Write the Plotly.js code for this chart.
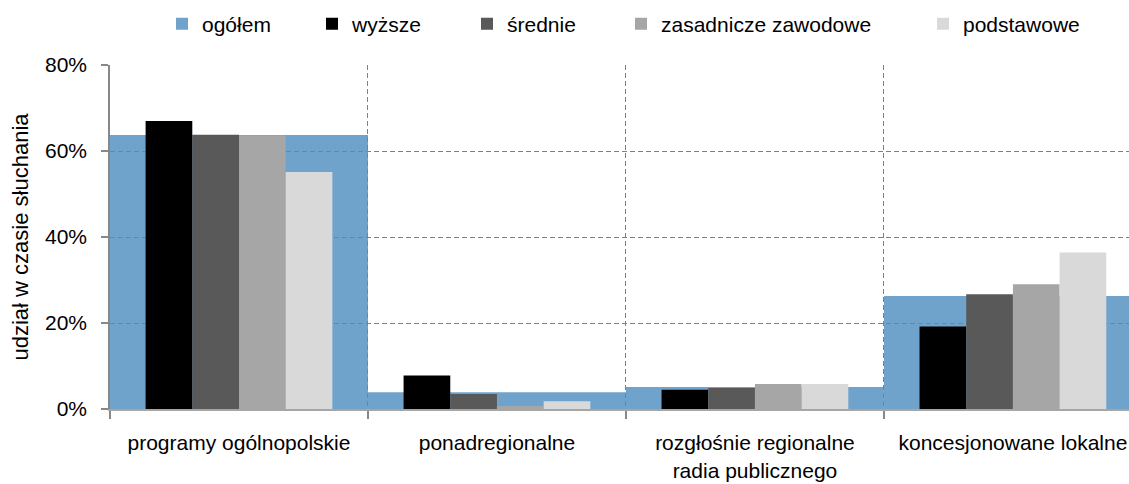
<!DOCTYPE html>
<html>
<head>
<meta charset="utf-8">
<script src="https://cdn.plot.ly/plotly-3.0.1.min.js"></script>
<style>html,body{margin:0;padding:0;background:#fff;}#chart{width:1129px;height:484px;}</style>
</head>
<body>
<div id="chart"></div>
<script>
const categories = ["programy ogólnopolskie", "ponadregionalne", "rozgłośnie regionalne<br>radia publicznego", "koncesjonowane lokalne"];
const seriesNames = ["ogółem", "wyższe", "średnie", "zasadnicze zawodowe", "podstawowe"];
const ogolem = [63.7, 3.9, 5.1, 26.3];
const wyzsze = [67.0, 7.8, 4.5, 19.2];
const srednie = [63.8, 3.5, 4.9, 26.7];
const zasadnicze = [63.6, 0.7, 5.8, 29.0];
const podstawowe = [55.1, 1.8, 5.8, 36.4];
const yTicks = [0, 20, 40, 60, 80];

const xPos = categories.map((c, i) => i);
const FONT = "Liberation Sans, Arial, sans-serif";

const subBarW = 0.181;
const traces = [
  {name: seriesNames[0], y: ogolem, color: "rgba(79,143,192,0.82)", offset: -0.5, width: 1, legend: "legend"},
  {name: seriesNames[1], y: wyzsze, color: "#000000", offset: -2 * subBarW, width: subBarW, legend: "legend2"},
  {name: seriesNames[2], y: srednie, color: "#595959", offset: -subBarW, width: subBarW, legend: "legend3"},
  {name: seriesNames[3], y: zasadnicze, color: "#a6a6a6", offset: 0, width: subBarW, legend: "legend4"},
  {name: seriesNames[4], y: podstawowe, color: "#d9d9d9", offset: subBarW, width: subBarW, legend: "legend5"}
].map(t => ({
  type: "bar",
  name: t.name,
  x: xPos,
  y: t.y,
  offset: t.offset,
  width: t.width,
  legend: t.legend,
  marker: {color: t.color, line: {width: 0}},
  hoverinfo: "name+y"
}));

const legendX = [162, 312, 467, 621, 923];
function mkLegend(px) {
  return {
    orientation: "h",
    x: (px - 110) / 1019,
    xanchor: "left",
    y: 1 + (65 - 24) / 344,
    yanchor: "middle",
    font: {family: FONT, size: 21, color: "#000"},
    bgcolor: "rgba(0,0,0,0)",
    borderwidth: 0
  };
}

const layout = {
  width: 1129,
  height: 484,
  margin: {l: 110, r: 0, t: 65, b: 75},
  paper_bgcolor: "#fff",
  plot_bgcolor: "#fff",
  font: {family: FONT, size: 21, color: "#000"},
  barmode: "overlay",
  showlegend: true,
  legend: mkLegend(legendX[0]),
  legend2: mkLegend(legendX[1]),
  legend3: mkLegend(legendX[2]),
  legend4: mkLegend(legendX[3]),
  legend5: mkLegend(legendX[4]),
  xaxis: {
    range: [-0.5, 3.45],
    tickmode: "array",
    tickvals: xPos,
    ticktext: categories,
    ticks: "",
    showgrid: false,
    zeroline: false,
    showline: true,
    linecolor: "#a6a6a6",
    linewidth: 2,
    ticklabelstandoff: 14,
    tickfont: {family: FONT, size: 21, color: "#000"},
    minor: {
      tickmode: "array",
      tickvals: [-0.5, 0.5, 1.5, 2.5],
      ticks: "outside",
      ticklen: 8,
      tickcolor: "#888",
      tickwidth: 1.5,
      showgrid: true,
      gridcolor: "#808080",
      gridwidth: 1.2,
      griddash: "5px,3px"
    }
  },
  yaxis: {
    range: [0, 80],
    tickmode: "array",
    tickvals: yTicks,
    ticktext: yTicks.map(v => v + "%"),
    ticks: "outside",
    ticklen: 7,
    tickcolor: "#888",
    tickwidth: 1.5,
    ticklabelstandoff: 10,
    showgrid: true,
    gridcolor: "#808080",
    gridwidth: 1.2,
    griddash: "5px,3px",
    zeroline: false,
    showline: true,
    linecolor: "#888",
    linewidth: 1.5,
    tickfont: {family: FONT, size: 21, color: "#000"},
    title: {text: "udział w czasie słuchania", font: {family: FONT, size: 22, color: "#000"}, standoff: 10},
    automargin: false
  }
};

Plotly.newPlot("chart", traces, layout, {displayModeBar: false, responsive: false});
</script>
</body>
</html>
